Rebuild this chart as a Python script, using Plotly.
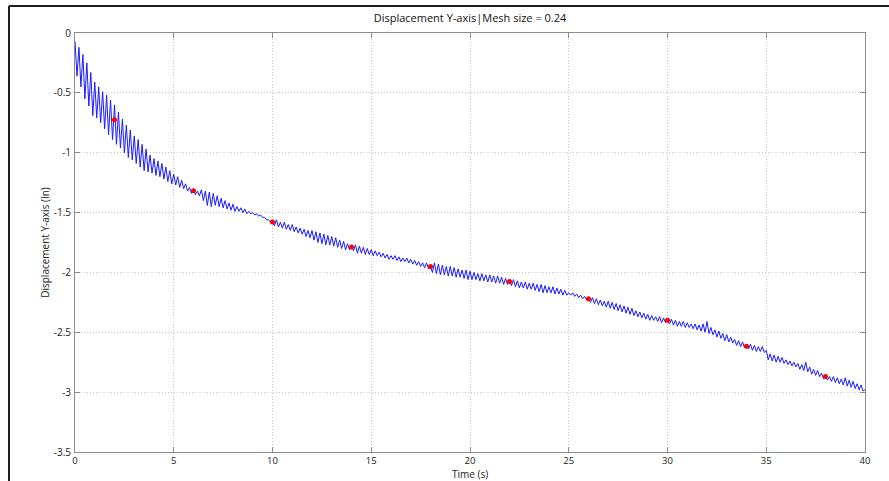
import plotly.graph_objects as go

# time samples (s)
time_s = [round(i * 0.1, 1) for i in range(401)]

# displacement values, one row per second (10 samples each)
disp_y = [
    -0.07, -0.36, -0.12, -0.45, -0.18, -0.55, -0.25, -0.61, -0.33, -0.69,
    -0.41, -0.71, -0.45, -0.75, -0.49, -0.80, -0.52, -0.85, -0.56, -0.89,
    -0.60, -0.93, -0.66, -0.96, -0.72, -1.00, -0.77, -1.04, -0.81, -1.06,
    -0.86, -1.09, -0.89, -1.12, -0.93, -1.15, -0.97, -1.16, -1.02, -1.17,
    -1.05, -1.19, -1.07, -1.20, -1.09, -1.22, -1.12, -1.24, -1.15, -1.26,
    -1.18, -1.27, -1.20, -1.29, -1.23, -1.30, -1.26, -1.32, -1.29, -1.34,
    -1.31, -1.35, -1.32, -1.36, -1.31, -1.40, -1.32, -1.44, -1.33, -1.45,
    -1.34, -1.44, -1.36, -1.45, -1.38, -1.46, -1.40, -1.47, -1.42, -1.48,
    -1.43, -1.49, -1.45, -1.49, -1.46, -1.50, -1.47, -1.51, -1.49, -1.51,
    -1.50, -1.52, -1.51, -1.53, -1.52, -1.54, -1.54, -1.56, -1.56, -1.58,
    -1.57, -1.61, -1.56, -1.62, -1.58, -1.63, -1.58, -1.64, -1.60, -1.65,
    -1.60, -1.66, -1.62, -1.67, -1.63, -1.68, -1.64, -1.70, -1.65, -1.71,
    -1.65, -1.73, -1.66, -1.75, -1.67, -1.76, -1.68, -1.77, -1.69, -1.77,
    -1.70, -1.78, -1.71, -1.79, -1.73, -1.80, -1.74, -1.81, -1.76, -1.81,
    -1.77, -1.82, -1.77, -1.84, -1.78, -1.84, -1.79, -1.85, -1.80, -1.85,
    -1.81, -1.86, -1.82, -1.86, -1.83, -1.87, -1.84, -1.88, -1.85, -1.89,
    -1.86, -1.89, -1.86, -1.90, -1.87, -1.91, -1.88, -1.91, -1.88, -1.92,
    -1.89, -1.93, -1.90, -1.94, -1.91, -1.95, -1.92, -1.96, -1.92, -1.97,
    -1.95, -2.00, -1.92, -2.01, -1.93, -2.02, -1.94, -2.02, -1.95, -2.03,
    -1.95, -2.03, -1.96, -2.04, -1.97, -2.04, -1.98, -2.05, -1.98, -2.06,
    -1.99, -2.06, -2.00, -2.06, -2.01, -2.07, -2.01, -2.07, -2.02, -2.08,
    -2.02, -2.08, -2.03, -2.09, -2.03, -2.09, -2.04, -2.10, -2.05, -2.10,
    -2.07, -2.11, -2.06, -2.12, -2.07, -2.13, -2.08, -2.13, -2.08, -2.14,
    -2.09, -2.14, -2.09, -2.15, -2.10, -2.16, -2.10, -2.17, -2.11, -2.17,
    -2.12, -2.17, -2.12, -2.18, -2.13, -2.18, -2.14, -2.19, -2.15, -2.19,
    -2.17, -2.19, -2.17, -2.20, -2.18, -2.21, -2.19, -2.22, -2.20, -2.23,
    -2.22, -2.25, -2.21, -2.26, -2.22, -2.27, -2.23, -2.28, -2.24, -2.29,
    -2.24, -2.30, -2.25, -2.31, -2.26, -2.32, -2.27, -2.33, -2.28, -2.34,
    -2.29, -2.35, -2.30, -2.36, -2.32, -2.37, -2.33, -2.38, -2.34, -2.39,
    -2.35, -2.40, -2.36, -2.40, -2.37, -2.41, -2.37, -2.42, -2.38, -2.42,
    -2.40, -2.43, -2.39, -2.44, -2.40, -2.45, -2.41, -2.45, -2.41, -2.46,
    -2.42, -2.46, -2.43, -2.47, -2.43, -2.48, -2.44, -2.49, -2.43, -2.50,
    -2.41, -2.51, -2.46, -2.52, -2.48, -2.54, -2.49, -2.55, -2.51, -2.57,
    -2.52, -2.58, -2.54, -2.59, -2.56, -2.61, -2.57, -2.62, -2.58, -2.63,
    -2.61, -2.64, -2.60, -2.65, -2.61, -2.66, -2.62, -2.66, -2.62, -2.67,
    -2.65, -2.73, -2.68, -2.74, -2.69, -2.75, -2.70, -2.75, -2.71, -2.76,
    -2.73, -2.77, -2.74, -2.78, -2.75, -2.79, -2.76, -2.81, -2.77, -2.82,
    -2.75, -2.83, -2.79, -2.85, -2.81, -2.86, -2.82, -2.87, -2.84, -2.89,
    -2.87, -2.90, -2.87, -2.91, -2.87, -2.92, -2.88, -2.93, -2.89, -2.94,
    -2.88, -2.95, -2.90, -2.96, -2.91, -2.97, -2.93, -2.98, -2.94, -2.99,
    -2.98,
]

# red sample markers
marker_t = [2, 6, 10, 14, 18, 22, 26, 30, 34, 38]
marker_y = [-0.724, -1.317, -1.579, -1.788, -1.95, -2.075, -2.22, -2.40, -2.617, -2.87]

x_ticks = [0, 5, 10, 15, 20, 25, 30, 35, 40]
y_ticks = [0, -0.5, -1, -1.5, -2, -2.5, -3, -3.5]
y_tick_text = ["0", "-0.5", "-1", "-1.5", "-2", "-2.5", "-3", "-3.5"]

title_text = "Displacement Y-axis|Mesh size = 0.24"
x_title = "Time (s)"
y_title = "Displacement Y-axis (In)"

FONT = "Open Sans"
AX = "#8c8c8c"
GRID = "#c4c4c4"

fig = go.Figure()
fig.add_trace(go.Scatter(x=time_s, y=disp_y, mode="lines",
                         line=dict(color="#1a1aff", width=1), showlegend=False,
                         hoverinfo="skip"))
fig.add_trace(go.Scatter(x=marker_t, y=marker_y, mode="markers",
                         marker=dict(color="#ff0000", size=5), showlegend=False))

axis_common = dict(showline=True, linecolor=AX, linewidth=1, mirror="ticks",
                   ticks="inside", ticklen=5, tickcolor=AX, tickwidth=1,
                   showgrid=True, gridcolor=GRID, griddash="1px,2px", gridwidth=1,
                   zeroline=False, automargin=False)

fig.update_xaxes(range=[0, 40], tickvals=x_ticks, ticklabelstandoff=0,
                 tickfont=dict(family=FONT, size=9.5, color="#222"), **axis_common)
fig.update_yaxes(range=[-3.5, 0], tickvals=y_ticks, ticktext=y_tick_text,
                 tickfont=dict(family=FONT, size=10, color="#222"),
                 title=dict(text=y_title, font=dict(family=FONT, size=10, color="#222"), standoff=2),
                 ticklabelstandoff=1, **axis_common)

fig.update_layout(
    width=889, height=481,
    margin=dict(l=75, r=24, t=33, b=29, autoexpand=False),
    paper_bgcolor="white", plot_bgcolor="white",
    title=dict(text=title_text, x=(470 / 889), xanchor="center", y=1 - 18 / 481,
               yanchor="middle", font=dict(family=FONT, size=11, color="#111")),
    annotations=[
        dict(text=x_title, xref="paper", yref="paper", x=0.5, y=(452 - 474) / 419,
             xanchor="center", yanchor="middle", showarrow=False,
             font=dict(family=FONT, size=10, color="#222")),
    ],
    shapes=[
        dict(type="line", xref="paper", yref="paper",
             x0=(9 - 75) / 790, x1=(889 - 75) / 790,
             y0=(452 - 6) / 419, y1=(452 - 6) / 419,
             line=dict(color="#202020", width=2)),
        dict(type="line", xref="paper", yref="paper",
             x0=(9 - 75) / 790, x1=(9 - 75) / 790,
             y0=(452 - 6) / 419, y1=(452 - 481) / 419,
             line=dict(color="#202020", width=2)),
    ],
)

fig.write_html("out.html")
